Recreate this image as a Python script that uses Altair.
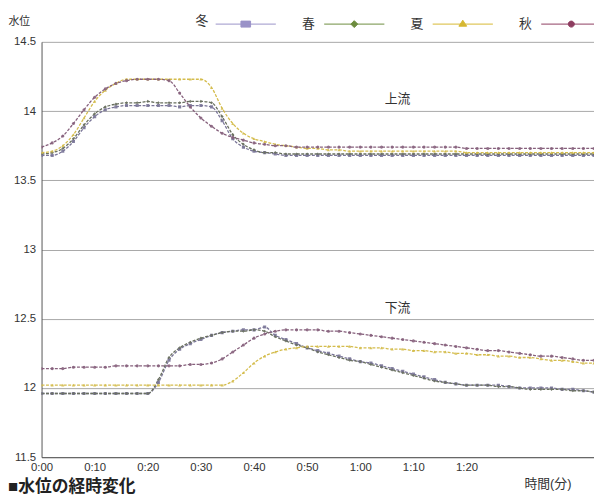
import altair as alt
import pandas as pd

FONT = "Liberation Sans, 'Noto Sans CJK JP', sans-serif"

minutes = [0, 2, 4, 6, 8, 10, 12, 14, 16, 18, 20, 22, 24, 26, 28, 30, 32, 34, 36, 38,
           40, 42, 44, 46, 48, 50, 52, 54, 56, 58, 60, 62, 64, 66, 68, 70, 72, 74, 76, 78,
           80, 82, 84, 86, 88, 90, 92, 94, 96, 98, 100, 102, 104, 106]

seasons = ["冬", "春", "夏", "秋"]
line_colors = ["#7a7598", "#69705f", "#d4bc4c", "#86607c"]
legend_colors = ["#9a92c8", "#6d8c3e", "#d6b832", "#8e3d60"]
shapes = ["square", "diamond", "triangle-up", "circle"]
legend_symbols = [
    "M-1,0H1M-0.16,-0.1H0.16V0.1H-0.16Z",
    "M-1,0H1M0,-0.115L0.115,0L0,0.115L-0.115,0Z",
    "M-1,0H1M0,-0.13L0.13,0.07H-0.13Z",
    "M-1,0H1M-0.1,0A0.1,0.1,0,1,0,0.1,0A0.1,0.1,0,1,0,-0.1,0Z",
]
reach_labels = ["上流", "下流"]
caption = ["■水位の経時変化"]
tick_minutes = [0, 10, 20, 30, 40, 50, 60, 70, 80]
level_ticks = [11.5, 12, 12.5, 13, 13.5, 14, 14.5]

# 上流
up_fuyu = [13.68, 13.68, 13.71, 13.78, 13.88, 13.96, 14.01, 14.03, 14.04, 14.04,
           14.04, 14.04, 14.04, 14.03, 14.04, 14.04, 14.03, 13.93, 13.80, 13.74,
           13.71, 13.70, 13.69, 13.68, 13.68, 13.68, 13.68, 13.68, 13.68, 13.68,
           13.68, 13.68, 13.68, 13.68, 13.68, 13.68, 13.68, 13.68, 13.68, 13.68,
           13.68, 13.68, 13.68, 13.68, 13.68, 13.68, 13.68, 13.68, 13.68, 13.68,
           13.68, 13.68, 13.68, 13.68]
up_haru = [13.69, 13.70, 13.73, 13.80, 13.90, 13.98, 14.03, 14.05, 14.06, 14.06,
           14.07, 14.06, 14.06, 14.06, 14.07, 14.07, 14.06, 13.96, 13.83, 13.76,
           13.72, 13.70, 13.70, 13.69, 13.69, 13.69, 13.69, 13.69, 13.69, 13.69,
           13.69, 13.69, 13.69, 13.69, 13.69, 13.69, 13.69, 13.69, 13.69, 13.69,
           13.69, 13.69, 13.69, 13.69, 13.69, 13.69, 13.69, 13.69, 13.69, 13.69,
           13.69, 13.69, 13.69, 13.69]
up_natsu = [13.70, 13.71, 13.75, 13.83, 13.95, 14.07, 14.15, 14.20, 14.23, 14.23,
            14.23, 14.23, 14.23, 14.23, 14.23, 14.23, 14.17, 14.02, 13.91, 13.84,
            13.80, 13.78, 13.76, 13.75, 13.74, 13.73, 13.73, 13.72, 13.72, 13.71,
            13.71, 13.71, 13.71, 13.71, 13.71, 13.71, 13.71, 13.71, 13.71, 13.71,
            13.70, 13.70, 13.70, 13.70, 13.70, 13.70, 13.70, 13.70, 13.70, 13.70,
            13.70, 13.70, 13.70, 13.70]
up_aki = [13.74, 13.77, 13.82, 13.91, 14.01, 14.10, 14.16, 14.20, 14.22, 14.23,
          14.23, 14.23, 14.22, 14.13, 14.03, 13.95, 13.89, 13.84, 13.81, 13.79,
          13.77, 13.76, 13.75, 13.75, 13.74, 13.74, 13.74, 13.74, 13.74, 13.74,
          13.74, 13.74, 13.74, 13.74, 13.74, 13.74, 13.74, 13.74, 13.74, 13.74,
          13.73, 13.73, 13.73, 13.73, 13.73, 13.73, 13.73, 13.73, 13.73, 13.73,
          13.73, 13.73, 13.73, 13.73]

# 下流
dn_fuyu = [11.96, 11.96, 11.96, 11.96, 11.96, 11.96, 11.96, 11.96, 11.96, 11.96,
           11.96, 12.04, 12.20, 12.28, 12.32, 12.35, 12.38, 12.40, 12.41, 12.42,
           12.42, 12.44, 12.38, 12.35, 12.32, 12.29, 12.27, 12.25, 12.23, 12.21,
           12.19, 12.18, 12.16, 12.14, 12.12, 12.10, 12.08, 12.06, 12.04, 12.03,
           12.02, 12.02, 12.02, 12.02, 12.01, 12.00, 12.00, 12.00, 12.00, 11.99,
           11.99, 11.98, 11.97, None]
dn_haru = [11.96, 11.96, 11.96, 11.96, 11.96, 11.96, 11.96, 11.96, 11.96, 11.96,
           11.96, 12.06, 12.22, 12.29, 12.33, 12.36, 12.38, 12.40, 12.41, 12.41,
           12.42, 12.41, 12.37, 12.34, 12.31, 12.29, 12.26, 12.24, 12.22, 12.20,
           12.19, 12.17, 12.15, 12.13, 12.11, 12.09, 12.07, 12.05, 12.04, 12.03,
           12.02, 12.02, 12.02, 12.01, 12.01, 12.00, 11.99, 11.99, 11.99, 11.99,
           11.98, 11.98, 11.97, None]
dn_natsu = [12.02, 12.02, 12.02, 12.02, 12.02, 12.02, 12.02, 12.02, 12.02, 12.02,
            12.02, 12.02, 12.02, 12.02, 12.02, 12.02, 12.02, 12.02, 12.05, 12.11,
            12.18, 12.23, 12.26, 12.28, 12.29, 12.30, 12.30, 12.30, 12.30, 12.30,
            12.29, 12.29, 12.29, 12.28, 12.28, 12.27, 12.27, 12.26, 12.26, 12.25,
            12.25, 12.24, 12.24, 12.23, 12.23, 12.22, 12.22, 12.21, 12.20, 12.20,
            12.19, 12.18, 12.18, 12.17]
dn_aki = [12.14, 12.14, 12.14, 12.15, 12.15, 12.15, 12.15, 12.16, 12.16, 12.16,
          12.16, 12.16, 12.16, 12.16, 12.17, 12.17, 12.18, 12.21, 12.26, 12.31,
          12.36, 12.39, 12.41, 12.42, 12.42, 12.42, 12.42, 12.41, 12.41, 12.40,
          12.39, 12.38, 12.37, 12.36, 12.35, 12.34, 12.33, 12.32, 12.31, 12.30,
          12.29, 12.28, 12.27, 12.27, 12.26, 12.25, 12.24, 12.23, 12.23, 12.22,
          12.21, 12.20, 12.20, 12.19]

groups = {
    "上流": [up_fuyu, up_haru, up_natsu, up_aki],
    "下流": [dn_fuyu, dn_haru, dn_natsu, dn_aki],
}
rows = []
for reach, series_list in groups.items():
    for season, vals in zip(seasons, series_list):
        for t, v in zip(minutes, vals):
            rows.append({"時間": t, "水位": v, "季節": season, "区間": reach})
df = pd.DataFrame(rows)

x_enc = alt.X(
    "時間:Q",
    scale=alt.Scale(domain=[0, 104], nice=False, zero=False),
    axis=alt.Axis(
        values=tick_minutes,
        labelExpr="floor(datum.value / 60) + ':' + (datum.value % 60 < 10 ? '0' : '') + (datum.value % 60)",
        grid=False, ticks=False, labelPadding=4, labelFontSize=11.5, labelFlush=False,
        title="時間(分)", titleX=489, titleY=27, titleAlign="left",
        titleBaseline="middle", titleFontWeight="normal", titleFontSize=13,
    ),
)
y_enc = alt.Y(
    "水位:Q",
    scale=alt.Scale(domain=[11.5, 14.5], nice=False, zero=False),
    axis=alt.Axis(
        values=level_ticks, format="~g", grid=True, ticks=False, labelPadding=6,
        labelFontSize=11.5, labelFlush=False, title="水位", titleAngle=0,
        titleX=-34, titleY=-21, titleAlign="left", titleBaseline="middle",
        titleFontWeight="normal", titleFontSize=11,
    ),
)
color_enc = alt.Color("季節:N", scale=alt.Scale(domain=seasons, range=line_colors), legend=None)

base = alt.Chart(df)
lines = base.mark_line(strokeWidth=1.3, clip=True, interpolate="monotone",
                       strokeDash=[3, 1.5]).encode(
    x=x_enc, y=y_enc, color=color_enc, detail="区間:N"
)
points = base.mark_point(filled=True, size=10, clip=True, opacity=0.9).encode(
    x=x_enc, y=y_enc, color=color_enc,
    shape=alt.Shape("季節:N", scale=alt.Scale(domain=seasons, range=shapes), legend=None),
)

ann_df = pd.DataFrame({"区間": reach_labels, "t": [67, 67], "v": [14.09, 12.58]})
ann = alt.Chart(ann_df).mark_text(fontSize=13, color="#333", font=FONT).encode(
    x=alt.X("t:Q"), y=alt.Y("v:Q"), text="区間:N"
)

cap = alt.Chart(pd.DataFrame({"c": caption})).mark_text(
    fontSize=17, fontWeight="bold", color="#222", align="left", baseline="top", font=FONT
).encode(x=alt.value(-34), y=alt.value(443), text="c:N")

# Legend reads "label —symbol—": the first season name is the legend title and
# each entry label shows the following season name.
next_label = ("datum.label == '冬' ? '春' : datum.label == '春' ? '夏' : "
              "datum.label == '夏' ? '秋' : ''")
leg_props = alt.Legend(
    orient="none", legendX=156, legendY=-49, direction="horizontal",
    title=seasons[0], titleOrient="left", titlePadding=6, titleAnchor="middle",
    titleBaseline="line-top", titleLineHeight=19, titleFontSize=13,
    titleFontWeight="normal", titleColor="#333", titleFont=FONT,
    symbolSize=3721, symbolStrokeWidth=1, labelOffset=26, labelExpr=next_label,
    columnPadding=6, labelFontSize=13, labelColor="#333", labelFont=FONT,
    symbolOpacity=1, padding=0,
)
leg = alt.Chart(pd.DataFrame({"凡例": seasons})).mark_point(
    filled=True, strokeWidth=1, opacity=1
).encode(
    color=alt.Color("凡例:N", scale=alt.Scale(domain=seasons, range=legend_colors), legend=leg_props),
    stroke=alt.Stroke("凡例:N", scale=alt.Scale(domain=seasons, range=legend_colors), legend=leg_props),
    shape=alt.Shape("凡例:N", scale=alt.Scale(domain=seasons, range=legend_symbols), legend=leg_props),
).transform_filter("false")

chart = alt.layer(lines, points, ann, cap, leg).resolve_scale(
    color="independent", shape="independent", stroke="independent"
).properties(
    width=560, height=421,
    autosize=alt.AutoSizeParams(type="none"),
    padding={"left": 34, "top": 31, "right": 0, "bottom": 35},
).configure_view(stroke=None).configure_axis(
    labelFont=FONT, titleFont=FONT, labelColor="#333", titleColor="#333",
    domainColor="#555", gridColor="#a8a8a8", gridWidth=1,
).configure_text(font=FONT)

chart.save("out.html", embed_options={"renderer": "svg", "actions": False})
